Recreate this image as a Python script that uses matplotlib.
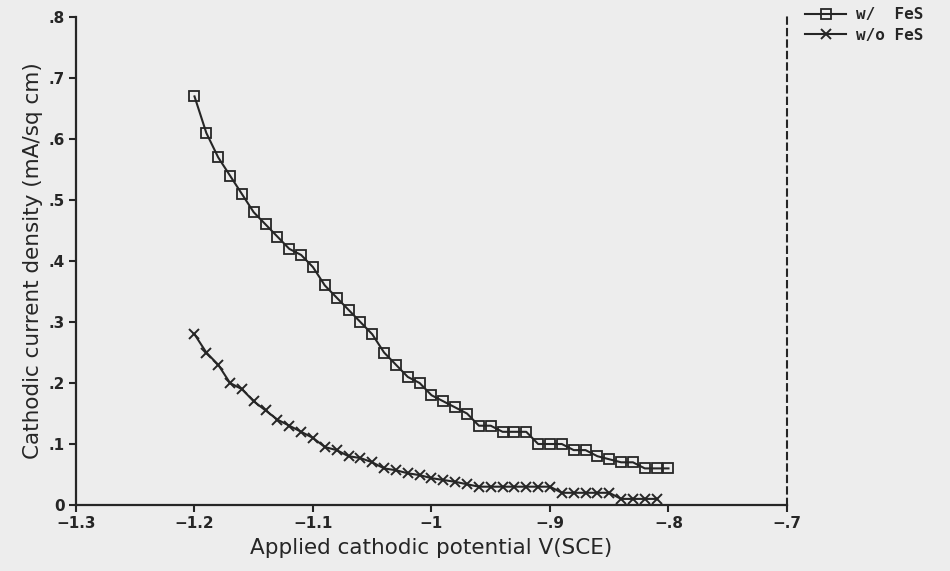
import numpy as np
import matplotlib
matplotlib.use("Agg")
import matplotlib.pyplot as plt
from matplotlib.ticker import FixedLocator, FixedFormatter

# Applied potential (V vs SCE), 10 mV steps
potential_fes = np.round(np.arange(-1.20, -0.795, 0.01), 2)
potential_nofes = np.round(np.arange(-1.20, -0.805, 0.01), 2)

# Cathodic current density (mA/sq cm) with FeS
current_fes = [0.67, 0.61, 0.57, 0.54, 0.51, 0.48, 0.46, 0.44, 0.42, 0.41,
               0.39, 0.36, 0.34, 0.32, 0.30, 0.28, 0.25, 0.23, 0.21, 0.20,
               0.18, 0.17, 0.16, 0.15, 0.13, 0.13, 0.12, 0.12, 0.12, 0.10,
               0.10, 0.10, 0.09, 0.09, 0.08, 0.075, 0.07, 0.07, 0.06, 0.06,
               0.06]

# Cathodic current density (mA/sq cm) without FeS
current_nofes = [0.28, 0.25, 0.23, 0.20, 0.19, 0.17, 0.155, 0.14, 0.13, 0.12,
                 0.11, 0.095, 0.09, 0.08, 0.077, 0.07, 0.06, 0.057, 0.052, 0.049,
                 0.044, 0.041, 0.038, 0.034, 0.03, 0.03, 0.03, 0.03, 0.03, 0.03,
                 0.03, 0.02, 0.02, 0.02, 0.02, 0.02, 0.01, 0.01, 0.01, 0.01]

x_ticks = [-1.3, -1.2, -1.1, -1.0, -0.9, -0.8, -0.7]
x_tick_labels = ["\u22121.3", "\u22121.2", "\u22121.1", "\u22121", "\u2212.9", "\u2212.8", "\u2212.7"]
y_ticks = [0, 0.1, 0.2, 0.3, 0.4, 0.5, 0.6, 0.7, 0.8]
y_tick_labels = ["0", ".1", ".2", ".3", ".4", ".5", ".6", ".7", ".8"]

series_labels = ["w/  FeS", "w/o FeS"]

paper = "#ededed"
ink = "#262626"

fig = plt.figure(figsize=(9.5, 5.71), dpi=100, facecolor=paper)
ax = fig.add_axes([0.080, 0.1156, 0.7484, 0.8544], facecolor=paper)

ax.plot(potential_fes, current_fes, color=ink, lw=1.5, marker="s",
        markersize=6.5, markerfacecolor="none", markeredgecolor=ink,
        markeredgewidth=1.3, label=series_labels[0])
ax.plot(potential_nofes, current_nofes, color=ink, lw=1.5, marker="x",
        markersize=6.5, markeredgewidth=1.4, label=series_labels[1])

ax.set_xlim(-1.3, -0.7)
ax.set_ylim(0, 0.8)

ax.xaxis.set_major_locator(FixedLocator(x_ticks))
ax.xaxis.set_major_formatter(FixedFormatter(x_tick_labels))
ax.yaxis.set_major_locator(FixedLocator(y_ticks))
ax.yaxis.set_major_formatter(FixedFormatter(y_tick_labels))

ax.tick_params(axis="both", direction="out", length=5, width=1.5,
               colors=ink, labelsize=11, pad=3)
for lab in ax.get_xticklabels() + ax.get_yticklabels():
    lab.set_fontweight("bold")

ax.spines["top"].set_visible(False)
for side in ("left", "bottom"):
    ax.spines[side].set_color(ink)
    ax.spines[side].set_linewidth(1.6)
ax.spines["right"].set_color(ink)
ax.spines["right"].set_linewidth(1.5)
ax.spines["right"].set_linestyle((0, (3, 2.5)))

ax.set_xlabel("Applied cathodic potential V(SCE)", fontsize=15.5, color=ink, labelpad=5)
ax.set_ylabel("Cathodic current density (mA/sq cm)", fontsize=15.5, color=ink, labelpad=4)

leg = ax.legend(loc="upper left", bbox_to_anchor=(1.005, 1.05), frameon=False,
                handlelength=2.6, handletextpad=0.6, labelspacing=0.35,
                prop={"family": "DejaVu Sans Mono", "weight": "bold", "size": 11.5})
for t in leg.get_texts():
    t.set_color(ink)

fig.savefig("out.png", dpi=100, facecolor=paper)
